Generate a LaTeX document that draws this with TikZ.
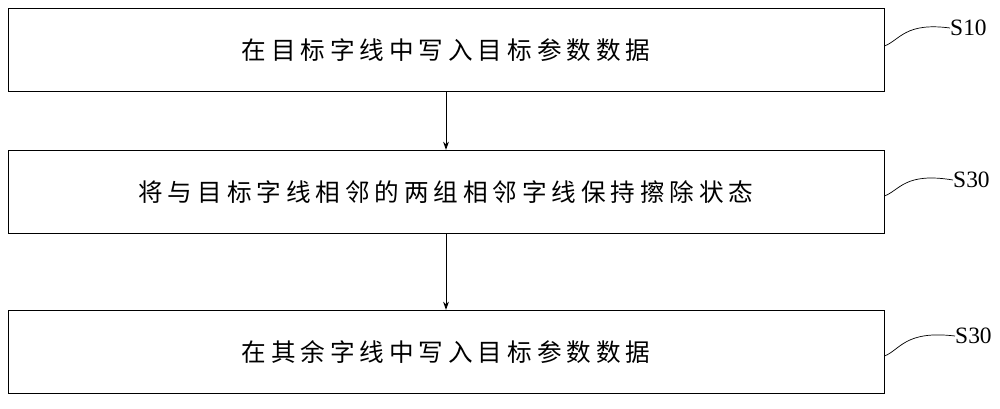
\documentclass[tikz,border=0pt]{standalone}
\usepackage{fontspec}
\setmainfont{Liberation Serif}
\newfontfamily\cjk[LetterSpace=20]{Noto Sans CJK SC}
\usetikzlibrary{arrows.meta}
\begin{document}
\begin{tikzpicture}[x=0.03cm,y=-0.03cm,
  stepbox/.style={draw,line width=0.8pt,minimum width=26.28cm,minimum height=2.5cm,inner sep=0pt,font=\cjk\fontsize{21}{24}\selectfont},
  lbl/.style={font=\fontsize{20}{24}\selectfont,anchor=west,inner sep=0pt},
  conn/.style={-{Stealth[length=7pt,width=5pt]},line width=0.8pt}]
\useasboundingbox (0,0) rectangle (1000,408);
\node[stepbox] (b1) at (446,50) {在目标字线中写入目标参数数据};
\node[stepbox] (b2) at (446,192) {将与目标字线相邻的两组相邻字线保持擦除状态};
\node[stepbox] (b3) at (446,352) {在其余字线中写入目标参数数据};
\draw[conn] (b1) -- (b2);
\draw[conn] (b2) -- (b3);
\node[lbl] (l1) at (950,28) {S10};
\node[lbl] (l2) at (953,180) {S30};
\node[lbl] (l3) at (955,336) {S30};
\draw[line width=0.6pt] (b1.east|-0,46) .. controls (900,40) and (905,22) .. (l1.west);
\draw[line width=0.6pt] (b2.east|-0,196) .. controls (900,190) and (905,172) .. (l2.west);
\draw[line width=0.6pt] (b3.east|-0,356) .. controls (900,350) and (905,330) .. (l3.west);
\end{tikzpicture}
\end{document}
